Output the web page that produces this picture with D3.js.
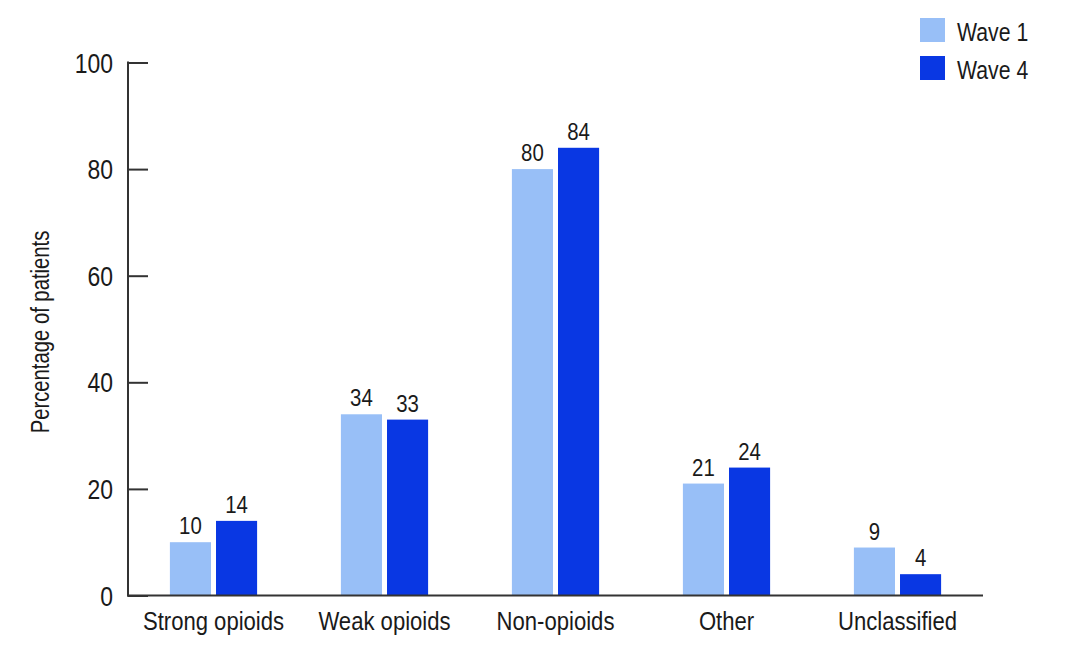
<!DOCTYPE html>
<html>
<head>
<meta charset="utf-8">
<script src="https://cdn.jsdelivr.net/npm/d3@7"></script>
<style>
  html, body { margin: 0; padding: 0; background: #fff; }
  text { font-family: "Liberation Sans", Arial, Helvetica, sans-serif; fill: #1a1a1a; }
</style>
</head>
<body>
<svg id="chart" width="1073" height="666"></svg>
<script>
const categories = ["Strong opioids", "Weak opioids", "Non-opioids", "Other", "Unclassified"];
const seriesNames = ["Wave 1", "Wave 4"];
const wave1 = [10, 34, 80, 21, 9];
const wave4 = [14, 33, 84, 24, 4];
const yTicks = [0, 20, 40, 60, 80, 100];
const colors = ["#98bff7", "#0937e3"];

const values = [wave1, wave4];
const svg = d3.select("#chart");
const SX = 0.85;

const x = d3.scaleBand().domain(categories).range([128, 983]).paddingInner(0).paddingOuter(0);
const xs = d3.scaleBand().domain(seriesNames)
  .range([x.bandwidth() * 0.245, x.bandwidth() * 0.755]).paddingInner(0.109).paddingOuter(0);
const y = d3.scaleLinear().domain([0, 100]).range([595.5, 62.5]);

function label(g, tx, ty, txt, size, anchor, rot, sx) {
  const t = g.append("g")
    .attr("transform", `translate(${tx},${ty})` + (rot ? ` rotate(${rot})` : "") + ` scale(${sx || SX},1)`);
  t.append("text").attr("text-anchor", anchor).attr("font-size", size).text(txt);
  return t;
}

// bars
const groups = svg.append("g").selectAll("g").data(categories).join("g")
  .attr("transform", d => `translate(${x(d)},0)`);
seriesNames.forEach((s, si) => {
  groups.append("rect")
    .attr("x", xs(s))
    .attr("width", xs.bandwidth())
    .attr("y", (d, i) => y(values[si][i]))
    .attr("height", (d, i) => y(0) - y(values[si][i]))
    .attr("fill", colors[si]);
});

// value labels
const vl = svg.append("g");
categories.forEach((c, i) => {
  seriesNames.forEach((s, si) => {
    const v = values[si][i];
    label(vl, x(c) + xs(s) + xs.bandwidth() / 2, y(v) - 8, String(v), 24, "middle");
  });
});

// y axis
const yAxis = d3.axisRight(y).tickValues(yTicks).tickSize(20).tickFormat("");
const ya = svg.append("g").attr("transform", "translate(128,0)").call(yAxis);
ya.select(".domain").remove();
ya.selectAll(".tick line").attr("stroke", "#333").attr("stroke-width", 2);
svg.append("line").attr("x1", 128).attr("x2", 128).attr("y1", y(100) - 1).attr("y2", y(0) + 1)
  .attr("stroke", "#333").attr("stroke-width", 2);
const tl = svg.append("g");
yTicks.forEach(t => label(tl, 113, y(t) + 10, String(t), 27, "end"));

// x axis
const xAxis = d3.axisBottom(x).tickSize(0).tickFormat("");
const xa = svg.append("g").attr("transform", `translate(0,${y(0)})`).call(xAxis);
xa.select(".domain").remove();
svg.append("line").attr("x1", 127).attr("x2", 983).attr("y1", y(0)).attr("y2", y(0))
  .attr("stroke", "#333").attr("stroke-width", 2);
const cl = svg.append("g");
categories.forEach(c => label(cl, x(c) + x.bandwidth() / 2, 630, c, 26, "middle"));

// y label
label(svg, 49, 332, "Percentage of patients", 25, "middle", -90, 0.81);

// legend
const lg = svg.append("g");
seriesNames.forEach((s, i) => {
  lg.append("rect").attr("x", 920).attr("y", 18 + i * 38).attr("width", 25).attr("height", 24).attr("fill", colors[i]);
  label(lg, 957, 41 + i * 38, s, 25, "start");
});
</script>
</body>
</html>
